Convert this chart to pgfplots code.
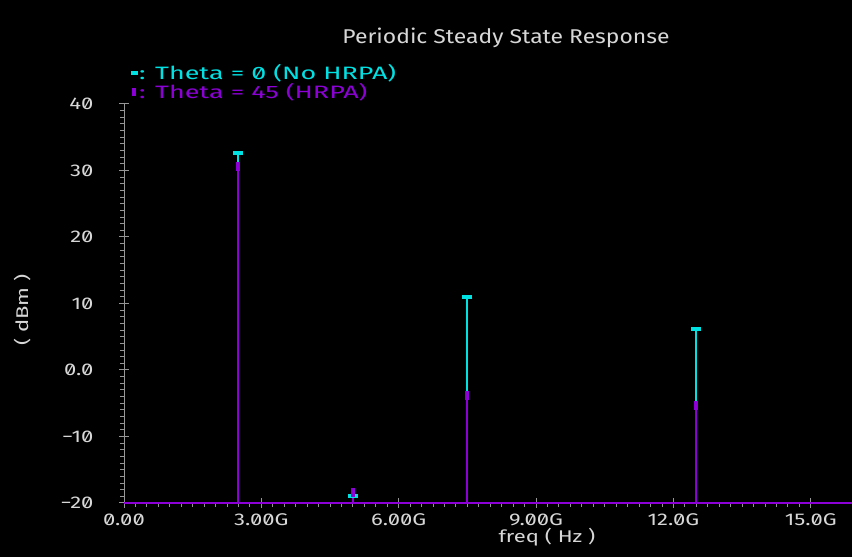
\documentclass[border=0pt]{standalone}
\usepackage{pgfplots}
\pgfplotsset{compat=1.18}
\usepackage{fontspec}
\setmainfont{Fira Sans}[Numbers=SlashedZero, FakeStretch=1.3]
\newfontfamily\tickfont{Fira Sans}[Numbers=SlashedZero, FakeStretch=1.3]
\newfontfamily\titlefont{Fira Sans}[FakeStretch=1.15]
\newfontfamily\legfont{Fira Sans}[Numbers=SlashedZero, FakeStretch=1.5]
\newcommand{\tl}[1]{\mbox{\tickfont #1}}

\definecolor{txtgray}{RGB}{215,215,215}
\definecolor{axgray}{RGB}{150,150,150}
\definecolor{pcyan}{RGB}{0,225,228}
\definecolor{ppurple}{RGB}{140,0,215}

\begin{document}
\begin{tikzpicture}[x=1bp,y=1bp]
\fill[black] (0,0) rectangle (852,557);
\node[txtgray, font=\titlefont\fontsize{20}{24}\selectfont] at (506,519) {Periodic Steady State Response};

\begin{axis}[
    at={(124bp,54bp)}, anchor=south west,
    scale only axis,
    width=728bp, height=399bp,
    xmin=0, xmax=15.9,
    ymin=-20, ymax=40,
    axis x line*=bottom, axis y line*=left,
    axis line style={axgray, line width=1bp, -},
    /pgf/number format/assume math mode=true,
    xtick={0,3,6,9,12,15},
    xticklabels={\tl{0.00},\tl{3.00G},\tl{6.00G},\tl{9.00G},\tl{12.0G},\tl{15.0G}},
    ytick={-20,-10,0,10,20,30,40},
    yticklabels={\tl{−20},\tl{−10},\tl{0.0},\tl{10},\tl{20},\tl{30},\tl{40}},
    minor x tick num=11,
    minor y tick num=9,
    tick align=center,
    major tick length=10bp,
    minor tick length=4bp,
    tick style={axgray, line width=1bp},
    minor x tick style={yshift=-2bp},
    minor y tick style={xshift=-2bp},
    ticklabel style={txtgray, font=\tickfont\fontsize{17}{20}\selectfont},
    xticklabel style={yshift=-2bp},
    yticklabel style={xshift=-22bp},
    xlabel={freq ( Hz )},
    ylabel={( dBm )},
    label style={txtgray, font=\fontsize{17}{20}\selectfont},
    xlabel style={at={(axis description cs:0.581,-0.085)}, anchor=center},
    ylabel style={at={(axis description cs:-0.140,0.484)}, anchor=center},
    unbounded coords=jump,
    clip=false,
]
% baseline of the purple trace
\addplot[ppurple, line width=2bp] coordinates {(0,-20) (15.9,-20)};

% Theta = 0 (No HRPA): stems, then markers
\addplot[pcyan, line width=2bp] coordinates {
    (2.5,-20) (2.5,32.6) (2.5,nan)
    (5.0,-20) (5.0,-18.9) (5.0,nan)
    (7.5,-20) (7.5,11.0) (7.5,nan)
    (12.5,-20) (12.5,6.2)
    };
\addplot[pcyan, only marks, mark=-,
    mark options={line width=4bp, mark size=5bp}] coordinates {
    (2.5,32.6) (5.0,-18.9) (7.5,11.0) (12.5,6.2)
    };

% Theta = 45 (HRPA): stems, then markers
\addplot[ppurple, line width=2bp] coordinates {
    (2.5,-20) (2.5,30.6) (2.5,nan)
    (5.0,-20) (5.0,-18.4) (5.0,nan)
    (7.5,-20) (7.5,-3.8) (7.5,nan)
    (12.5,-20) (12.5,-5.4)
    };
\addplot[ppurple, only marks, mark=|,
    mark options={line width=4bp, mark size=4.5bp}] coordinates {
    (2.5,30.6) (5.0,-18.4) (7.5,-3.8) (12.5,-5.4)
    };
\end{axis}

% legend entries, set as in the plotting tool: marker, colon and label
\fill[pcyan] (131,482) rectangle (138,486);
\node[pcyan, anchor=west, font=\legfont\fontsize{18}{21}\selectfont, inner sep=0pt] at (139,484) {: Theta = 0 (No HRPA)};
\fill[ppurple] (132,461) rectangle (136,469);
\node[ppurple, anchor=west, font=\legfont\fontsize{18}{21}\selectfont, inner sep=0pt] at (139,465) {: Theta = 45 (HRPA)};

\pgfresetboundingbox
\useasboundingbox (0,0) rectangle (852,557);
\end{tikzpicture}
\end{document}
